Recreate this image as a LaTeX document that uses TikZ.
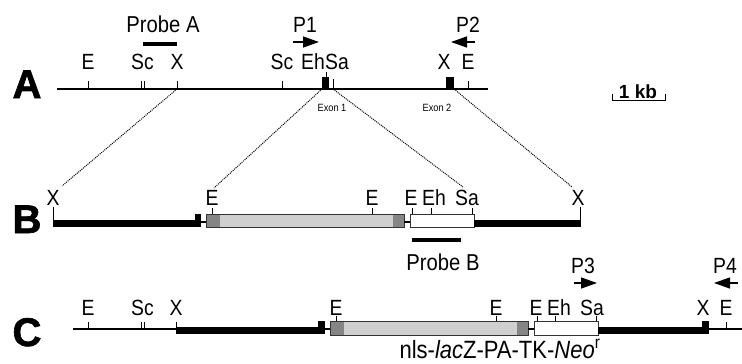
\documentclass[tikz,border=0pt]{standalone}
\usepackage{fontspec}
\setmainfont{Liberation Sans}
\newfontfamily\narrowsans{Liberation Sans}[FakeStretch=0.88]
\newfontfamily\heavysans{Liberation Sans Bold}[FakeBold=1.6]
\usetikzlibrary{arrows.meta}
\definecolor{lightfill}{gray}{0.81}
\definecolor{darkfill}{gray}{0.52}
\begin{document}
\begin{tikzpicture}[x=1pt,y=-1pt,
  dna/.style={line width=1.2pt},
  tickmark/.style={line width=0.9pt},
  arm/.style={fill=black},
  exonbox/.style={fill=black},
  cassette/.style={draw=black!80,line width=0.7pt},
  connector/.style={densely dotted,line width=1pt},
  site/.style={anchor=base,inner sep=0pt,font=\narrowsans\fontsize{22}{24}\selectfont},
  rowletter/.style={anchor=base,inner sep=0pt,font=\heavysans\fontsize{40}{42}\selectfont},
  probetext/.style={anchor=base,inner sep=0pt,font=\narrowsans\fontsize{23}{25}\selectfont},
  probebar/.style={line width=4pt},
  primer/.style={line width=1.3pt,-{Triangle[length=16pt,width=11pt]}},
  exonlabel/.style={anchor=base,inner sep=0pt,font=\narrowsans\fontsize{10.5}{11}\selectfont}]
\useasboundingbox (0,0) rectangle (742,364);

% ---------------- row A: wild-type locus ----------------
\node[rowletter] (lA) at (27,98) {A};
\draw[dna] (57,89) -- (488,89);
% restriction sites
\draw[tickmark] (88,81) -- (88,89);
\draw[tickmark] (141,81) -- (141,89) (144,81) -- (144,89);
\draw[tickmark] (177,81) coordinate (aXtop) -- (177,89) coordinate (aX);
\draw[tickmark] (282,81) -- (282,89);
\draw[tickmark] (326,72) -- (326,77);
\draw[tickmark] (333,79) -- (333,89) coordinate (aSa);
\draw[tickmark] (468,81) -- (468,89);
\node[site] (aE1) at (88,69) {E};
\node[site] (aSc1) at (142.5,69) {Sc};
\node[site] (aX1) at (177,69) {X};
\node[site] (aSc2) at (282,69) {Sc};
\node[site] (aEh) at (313,69) {Eh};
\node[site] (aSa1) at (337,69) {Sa};
\node[site] (aX2) at (444,69) {X};
\node[site] (aE2) at (468,69) {E};
% exons
\fill[exonbox] (322,77) rectangle (329,89);
\coordinate (ex1L) at (322,89);
\fill[exonbox] (446,77) rectangle (454,89);
\coordinate (ex2R) at (454,89);
\node[exonlabel] (tex1) at (332,111) {Exon 1};
\node[exonlabel] (tex2) at (437,111) {Exon 2};
% probe A
\node[probetext] (probeA) at (163,32) {Probe A};
\draw[probebar] (143,44) -- (177,44);
% primers P1, P2
\node[site] (p1) at (305,32) {P1};
\coordinate (p1s) at (293,42);
\coordinate (p1e) at (319,42);
\draw[primer] (p1s) -- (p1e);
\node[site] (p2) at (468,32) {P2};
\coordinate (p2s) at (475,42);
\coordinate (p2e) at (451,42);
\draw[primer] (p2s) -- (p2e);
% scale bar
\node[anchor=base,inner sep=0pt,font=\fontsize{19}{20}\selectfont\bfseries] (kb) at (638,98) {1 kb};
\draw[tickmark] (612,94) -- (612,100) -- (665,100) -- (665,94);

% ---------------- row B: targeting vector ----------------
\node[rowletter] (lB) at (27,233) {B};
\fill[arm] (53,219.5) rectangle (200,226.5);
\fill[exonbox] (195,213.5) rectangle (201,226.5);
\draw[dna] (201,222) -- (206,222);
\draw[tickmark] (53,207) -- (53,220);
\coordinate (bXL) at (62,186);
% lacZ-PA cassette
\draw[cassette,fill=lightfill] (206,214) rectangle (404,227.5);
\fill[darkfill] (206.4,214.4) rectangle (220,227.1);
\fill[darkfill] (393,214.4) rectangle (403.6,227.1);
\draw[cassette] (206,214) rectangle (404,227.5);
\draw[dna] (404,222) -- (410,222);
% TK-Neo cassette
\draw[cassette,fill=white] (410,214) rectangle (474,227.5);
\fill[arm] (474,219.5) rectangle (580,226.5);
\draw[tickmark] (580,207) -- (580,226.5);
% sites
\draw[tickmark] (212,208) -- (212,214);
\draw[tickmark] (372,208) -- (372,214);
\draw[tickmark] (412,208) -- (412,214);
\draw[tickmark] (431,208) -- (431,214);
\draw[tickmark] (472,208) -- (472,214);
\node[site] (bX1) at (53,205) {X};
\node[site] (bE1) at (212,205) {E};
\node[site] (bE2) at (372,205) {E};
\node[site] (bE3) at (411,205) {E};
\node[site] (bEh) at (434,205) {Eh};
\node[site] (bSa) at (467,205) {Sa};
\node[site] (bX2) at (578,205) {X};
\coordinate (bEtop) at (214,188);
\coordinate (bSatop) at (463,187);
\coordinate (bXRtop) at (572,187);
% probe B
\draw[probebar] (412,240) -- (461,240);
\node[probetext] (probeB) at (443,270) {Probe B};

% homology connectors
\draw[connector] (aX) -- (bXL);
\draw[connector] (ex1L) -- (bEtop);
\draw[connector] (aSa) -- (bSatop);
\draw[connector] (ex2R) -- (bXRtop);

% ---------------- row C: targeted allele ----------------
\node[rowletter] (lC) at (27,346) {C};
\draw[dna] (73,329) -- (176,329);
\draw[dna] (709,329) -- (742,329);
\draw[tickmark] (88,322) -- (88,329);
\draw[tickmark] (141,322) -- (141,329) (144,322) -- (144,329);
\draw[tickmark] (176,322) -- (176,329);
\fill[arm] (176,326.5) rectangle (320,333.5);
\fill[exonbox] (318,321) rectangle (325,333.5);
\draw[dna] (325,329) -- (330,329);
\draw[cassette,fill=lightfill] (330,321) rectangle (528,335);
\fill[darkfill] (330.4,321.4) rectangle (344,334.6);
\fill[darkfill] (517,321.4) rectangle (527.6,334.6);
\draw[cassette] (330,321) rectangle (528,335);
\draw[dna] (528,329) -- (534,329);
\draw[cassette,fill=white] (534,321) rectangle (598,335);
\fill[arm] (598,326.5) rectangle (702,333.5);
\fill[exonbox] (702,321) rectangle (709,333.5);
\draw[tickmark] (726,322) -- (726,329);
\draw[tickmark] (336,316) -- (336,321);
\draw[tickmark] (496,316) -- (496,321);
\draw[tickmark] (537,316) -- (537,321);
\draw[tickmark] (555,316) -- (555,321);
\draw[tickmark] (596,316) -- (596,321);
\node[site] (cE1) at (88,315) {E};
\node[site] (cSc) at (142.5,315) {Sc};
\node[site] (cX1) at (176,315) {X};
\node[site] (cE2) at (336,315) {E};
\node[site] (cE3) at (496,315) {E};
\node[site] (cE4) at (536,315) {E};
\node[site] (cEh) at (559,315) {Eh};
\node[site] (cSa) at (592,315) {Sa};
\node[site] (cX2) at (703,315) {X};
\node[site] (cE5) at (726,315) {E};
% primers P3, P4
\node[site] (p3) at (583,273) {P3};
\coordinate (p3s) at (574,283);
\coordinate (p3e) at (597,283);
\draw[primer] (p3s) -- (p3e);
\node[site] (p4) at (725,273) {P4};
\coordinate (p4s) at (738,283);
\coordinate (p4e) at (714,283);
\draw[primer] (p4s) -- (p4e);
% cassette name
\node[anchor=base,inner sep=0pt,font=\narrowsans\fontsize{25}{27}\selectfont] (cassname) at (500,358)
  {nls-\textit{lac}Z-PA-TK-\textit{Neo}\textsuperscript{r}};
\end{tikzpicture}
\end{document}
